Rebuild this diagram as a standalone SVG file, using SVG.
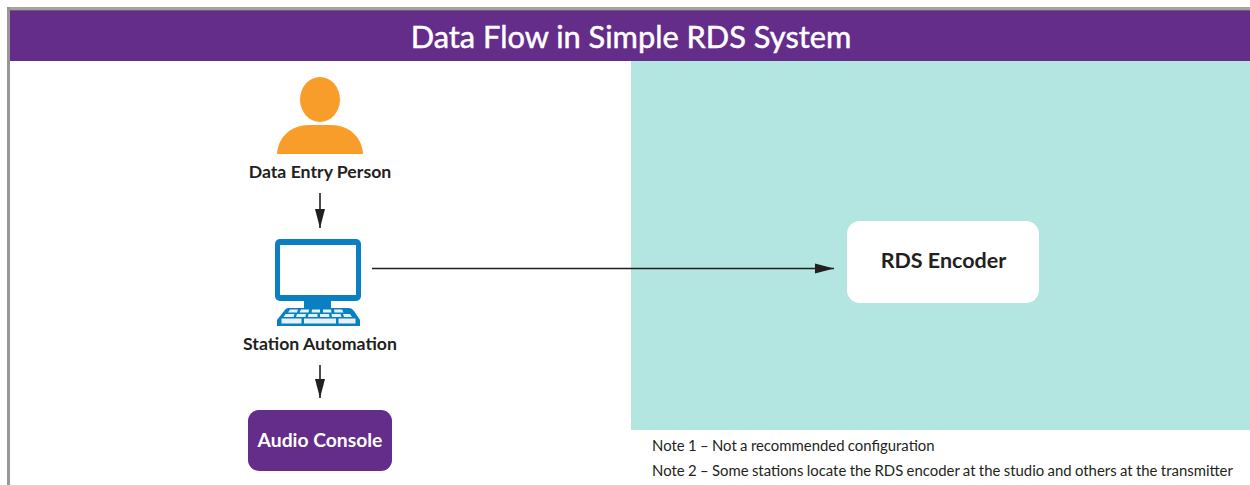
<svg xmlns="http://www.w3.org/2000/svg" width="1250" height="485" viewBox="0 0 1250 485">
<style>
text{font-family:"Lato","Open Sans","Liberation Sans",sans-serif;text-anchor:middle}
.lbl{font-size:17.7px;font-weight:700;fill:#231f20}
.note{font-size:14.9px;word-spacing:-.45px;fill:#231f20;text-anchor:start}
.conn{stroke:#231f20;stroke-width:1.6;fill:none}
.key{fill:#e6f2fa}
</style>
<defs>
<marker id="arr" markerUnits="userSpaceOnUse" markerWidth="20" markerHeight="11" refX="19" refY="5.500" orient="auto"><path d="M0 .5L19 5.500L0 10.500Z" fill="#231f20"/></marker>
</defs>
<rect width="1250" height="485" fill="#fff"/>
<rect id="teal-zone" x="631" y="61" width="619" height="369" fill="#b3e5e1"/>
<g id="frame"><rect x="7" y="7" width="1243" height="3" fill="#a3a3a3"/><rect x="7" y="7" width="3" height="478" fill="#979797"/></g>
<g id="title"><rect x="10" y="10" width="1240" height="51" fill="#642d89"/><rect x="10" y="10" width="1240" height="1" fill="#6d5a78"/>
<text x="631" y="47.500" font-size="30.800" font-weight="400" fill="#fff" stroke="#fff" stroke-width=".5">Data Flow in Simple RDS System</text></g>
<g id="connectors">
<line class="conn" x1="320" y1="193" x2="320" y2="228" marker-end="url(#arr)"/>
<line class="conn" x1="320" y1="365" x2="320" y2="398" marker-end="url(#arr)"/>
<line class="conn" x1="372" y1="268.500" x2="834" y2="268.500" marker-end="url(#arr)"/>
</g>
<g id="data-entry-person">
<ellipse cx="320" cy="99.500" rx="20" ry="22.500" fill="#f99d2a"/>
<path d="M277 154C278 137 291 125 309 125H331C349 125 362 137 363 154Z" fill="#f99d2a"/>
<text class="lbl" x="320" y="178">Data Entry Person</text>
</g>
<g id="station-automation">
<rect x="275" y="239" width="86" height="62" rx="5" fill="#0a7fc2"/>
<rect x="280" y="245" width="76" height="50" fill="#fff"/>
<rect x="304" y="300" width="27" height="9" fill="#0a7fc2"/>
<path d="M288 308H349Q352 308 354 311L360 320V326H277V320L284 311Q286 308 288 308Z" fill="#0a7fc2"/>
<path class="key" d="M290 309.500h8l-1 3h-9zM301 309.500h8l-.5 3h-9zM312 309.500h8v3h-8.500zM323 309.500h8l.5 3h-8.500zM334 309.500h8l1.500 3h-9zM285.500 314h9l-1 3h-10zM297 314h9l-.5 3h-9.500zM308.500 314h9v3h-9.500zM320 314h9l.5 3h-9.500zM331.500 314h9l1 3h-9.500zM343 314h7l2 3h-8zM281.500 318.500h20v5h-20zM304 318.500h32v5h-32zM338.500 318.500h17v5h-17z"/>
<text class="lbl" x="320" y="350">Station Automation</text>
</g>
<g id="audio-console">
<rect x="248" y="410" width="144" height="61" rx="11" fill="#642d89"/>
<text x="320" y="447" font-size="19.300" font-weight="700" fill="#fff">Audio Console</text>
</g>
<g id="rds-encoder">
<rect x="847" y="221" width="192" height="82" rx="13" fill="#fff"/>
<text x="943.500" y="268" font-size="21.500" font-weight="700" fill="#231f20">RDS Encoder</text>
</g>
<g id="notes">
<text class="note" x="652" y="451">Note 1 – Not a recommended configuration</text>
<text class="note" x="652" y="475.500">Note 2 – Some stations locate the RDS encoder at the studio and others at the transmitter</text>
</g>
</svg>
